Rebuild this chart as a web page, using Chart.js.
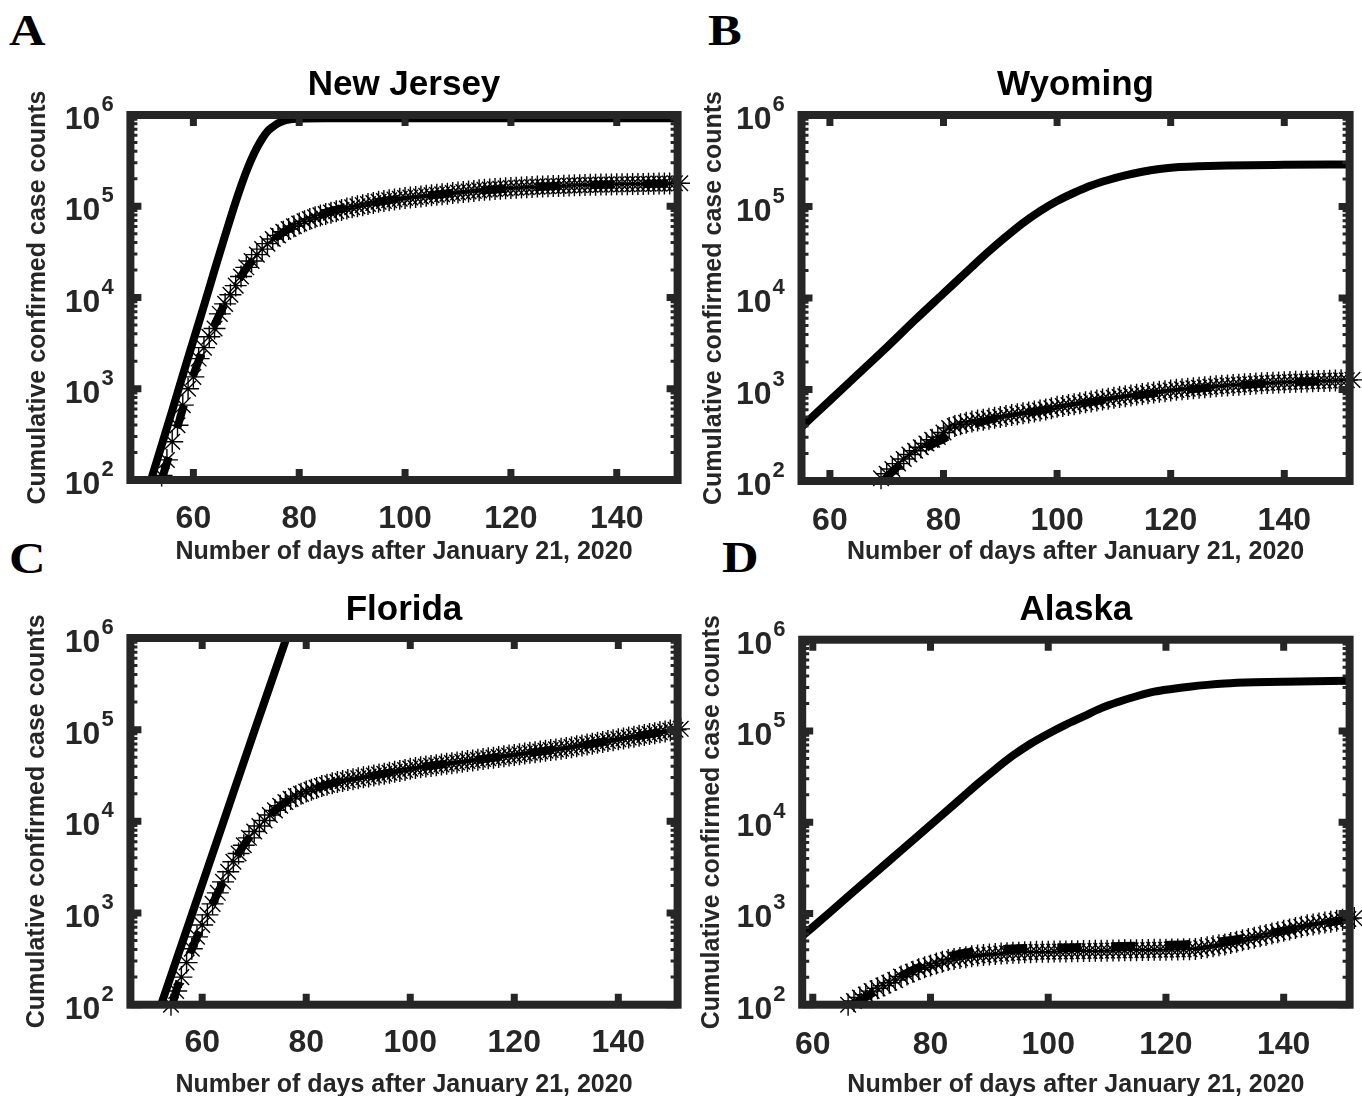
<!DOCTYPE html>
<html>
<head>
<meta charset="utf-8">
<title>Cumulative confirmed case counts</title>
<script src="https://cdn.jsdelivr.net/npm/chart.js@4.4.0/dist/chart.umd.min.js"></script>
<style>
  body { margin: 0; background: #fff; width: 1362px; height: 1096px; overflow: hidden; position: relative; }
  canvas { position: absolute; }
  .letter {
    position: absolute;
    font-family: "Liberation Serif", "Times New Roman", serif;
    font-weight: bold;
    font-size: 44px;
    line-height: 44px;
    color: #000;
    transform: scaleX(1.15);
    transform-origin: left top;
  }
</style>
</head>
<body>
<div class="letter" style="left:9px;top:9px">A</div>
<div class="letter" style="left:708px;top:9px">B</div>
<div class="letter" style="left:9px;top:537px">C</div>
<div class="letter" style="left:722px;top:536px">D</div>

<canvas id="chartNJ" width="690" height="520" style="left:0px;top:60px"></canvas>
<canvas id="chartWY" width="690" height="520" style="left:672px;top:60px"></canvas>
<canvas id="chartFL" width="690" height="513" style="left:0px;top:583px"></canvas>
<canvas id="chartAK" width="690" height="513" style="left:672px;top:583px"></canvas>

<script>
// tick values shared by all four panels
var xTicks = [60, 80, 100, 120, 140];
var yTicks = [1e2, 1e3, 1e4, 1e5, 1e6];
var yExponents = ['2', '3', '4', '5', '6'];

// New Jersey: daily confirmed counts from day 54, fitted curve, model curve
var firstDayNJ = 54;
var casesNJ = [112,166,263,398,661,1000,1350,2140,2820,3720,
  4570,6610,8510,10700,13500,17000,21400,25100,29500,33900,
  38900,43700,47900,52500,56200,60300,64600,68400,72400,75900,
  79400,82200,85100,88100,91200,94400,97700,100000,102800,105700,
  108600,112200,114300,116400,118600,120800,123000,124700,126500,128200,
  130000,131800,133700,135500,137400,139300,141300,143200,145200,147200,
  149300,151400,152800,154200,155600,157000,158500,159600,160700,161800,
  162900,164100,164800,165600,166300,167100,167900,168700,169400,170200,
  171000,171800,172200,172600,173000,173400,173800,174200,174600,175000,
  175400,175800,176200,176600,177000,177400,177800,178300,178800];
var fitDaysNJ = [54,56,58,60,62,64,66,68,70,72,75,78,82,86,90,95,100,110,120,130,140,152];
var fitNJ = [100,240,603,1410,2820,5010,8710,13800,20900,28800,42700,56200,74100,89100,100000,112200,123000,141300,156700,167900,173800,177800];
var modelDaysNJ = [52,54,56,58,60,62,64,66,68,69,70,71,72,73,74,75,76,77,78,80,85,100,152];
var modelNJ = [100,240,575,1410,3390,8130,19950,47900,112200,166000,239900,331100,436500,549500,660700,741300,812800,861000,891300,912000,922600,922600,922600];

// Wyoming
var firstDayWY = 69;
var casesWY = [107,120,135,155,174,195,214,234,257,282,
  302,339,380,398,417,432,447,457,468,479,
  490,501,513,525,537,550,562,575,589,603,
  625,646,661,676,692,708,724,741,759,776,
  794,813,828,843,859,875,891,908,925,942,
  959,977,991,1005,1019,1033,1047,1059,1071,1084,
  1096,1109,1119,1130,1140,1151,1161,1169,1178,1186,
  1194,1202,1208,1213,1219,1225,1230,1236,1242,1247,
  1253,1259,1265,1274];
var fitDaysWY = [69.5,72,75,78,81,85,90,95,100,105,110,115,120,125,130,135,140,145,152];
var fitWY = [100,145,195,250,310,410,495,560,635,715,795,875,955,1025,1090,1145,1190,1225,1280];
var modelDaysWY = [55,60,65,70,75,80,85,88,91,94,97,100,103,106,109,112,115,118,121,125,130,140,152];
var modelWY = [389,759,1479,2884,5754,11220,21880,32360,46770,66070,89130,114800,141300,169800,195000,218800,239900,257000,269200,275400,280500,285100,288400];

// Florida
var firstDayFL = 54;
var casesFL = [100,141,200,288,407,550,741,955,1259,1660,
  2188,2818,3631,4467,5495,6607,7762,8913,10230,11750,
  13180,14790,16220,17580,18840,19950,21130,22130,23170,24270,
  25120,26000,26920,27540,28180,28840,29510,30200,30900,31620,
  32360,33110,33880,34670,35480,36310,37580,38230,38900,39580,
  40270,40970,41690,42410,43150,43900,44670,45450,46240,47040,
  47860,48700,49550,50410,51290,52180,53090,54020,54950,55910,
  56890,57880,58880,59910,60950,62010,63100,64490,65920,67380,
  68870,70390,71940,73530,75160,76820,78520,80250,82030,83850,
  85700,87600,89540,91520,93540,95610,97720,99880,102100];
var fitDaysFL = [54.3,55,57,59,61,63,65,67,69,71,74,77,80,85,90,95,100,110,120,130,140,152];
var fitFL = [100,141,288,550,955,1660,2818,4467,6607,8913,13180,17580,21130,26000,29510,33110,37580,44670,53090,63100,78520,102100];
var modelDaysFL = [52.1,58,64,70,76.2,78];
var modelFL = [100,955,9550,95500,1000000,2000000];

// Alaska
var firstDayAK = 66;
var casesAK = [100,110,120,129,141,151,162,174,186,204,
  214,229,245,257,269,282,295,309,316,324,
  331,339,347,351,355,359,363,367,372,372,
  376,376,380,380,380,382,383,384,385,386,
  387,388,389,390,391,392,393,394,395,396,
  397,398,399,400,401,402,403,404,405,407,
  417,427,437,447,457,473,490,507,525,543,
  562,582,603,624,646,668,692,716,741,759,
  776,794,813,832,851,871,891];
var fitDaysAK = [67,70,73,76,79,82,85,88,92,96,100,105,110,115,120,125,130,135,140,145,152];
var fitAK = [100,132,174,224,275,324,363,389,407,417,422,427,437,442,452,468,501,562,646,741,891];
var modelDaysAK = [58,60,65,70,75,80,85,88,91,94,97,100,103,106,109,112,115,118,121,124,127,130,135,140,152];
var modelAK = [550,708,1349,2570,4898,9333,17780,26300,38020,53700,72440,93330,117500,144500,177800,208900,239900,269200,288400,305500,319900,331100,341200,346700,354800];

var fontFamily = "'Liberation Sans', Arial, 'DejaVu Sans', sans-serif";
var axisColor = '#262626';

function toPoints(days, values) {
  var pts = [];
  for (var i = 0; i < values.length; i++) {
    pts.push({ x: days[i], y: values[i] });
  }
  return pts;
}

function dailyPoints(firstDay, values) {
  var pts = [];
  for (var i = 0; i < values.length; i++) {
    pts.push({ x: firstDay + i, y: values[i] });
  }
  return pts;
}

// box, inward ticks, log minor ticks and 10^n labels, drawn like the MATLAB axes
var framePlugin = {
  id: 'frame',
  afterDatasetsDraw: function(chart) {
    var ctx = chart.ctx;
    var a = chart.chartArea;
    var xs = chart.scales.x;
    var ys = chart.scales.y;
    ctx.save();
    ctx.strokeStyle = axisColor;
    ctx.lineCap = 'butt';

    ctx.lineWidth = 3;
    ctx.beginPath();
    for (var d = 0; d < 4; d++) {
      for (var m = 2; m <= 9; m++) {
        var py = ys.getPixelForValue(m * yTicks[d]);
        ctx.moveTo(a.left, py); ctx.lineTo(a.left + 7, py);
        ctx.moveTo(a.right, py); ctx.lineTo(a.right - 7, py);
      }
    }
    ctx.stroke();

    ctx.lineWidth = 7;
    ctx.beginPath();
    xTicks.forEach(function(v) {
      var px = xs.getPixelForValue(v);
      ctx.moveTo(px, a.bottom); ctx.lineTo(px, a.bottom - 11);
      ctx.moveTo(px, a.top); ctx.lineTo(px, a.top + 11);
    });
    yTicks.forEach(function(v) {
      var py = ys.getPixelForValue(v);
      ctx.moveTo(a.left, py); ctx.lineTo(a.left + 11, py);
      ctx.moveTo(a.right, py); ctx.lineTo(a.right - 11, py);
    });
    ctx.stroke();

    ctx.lineWidth = 8;
    ctx.strokeRect(a.left, a.top, a.right - a.left, a.bottom - a.top);

    // y tick labels as 10 with a raised exponent
    ctx.fillStyle = axisColor;
    ctx.textBaseline = 'alphabetic';
    yTicks.forEach(function(v, i) {
      var py = ys.getPixelForValue(v);
      ctx.font = 'bold 32px ' + fontFamily;
      ctx.textAlign = 'right';
      ctx.fillText('10', a.left - 30, py + 14);
      ctx.font = 'bold 22px ' + fontFamily;
      ctx.textAlign = 'left';
      ctx.fillText(yExponents[i], a.left - 29, py - 4);
    });
    ctx.restore();
  }
};

function makeChart(p) {
  var W = p.width, H = p.height;
  var titleLH = 35 * 1.2;
  var titleTop = p.titleCenter - titleLH / 2;
  var ctx = document.getElementById(p.id).getContext('2d');

  return new Chart(ctx, {
    type: 'line',
    data: {
      datasets: [
        {
          label: 'fit',
          data: toPoints(p.fitDays, p.fit),
          borderColor: '#000',
          borderWidth: 8,
          borderDash: [24, 30],
          pointRadius: 0,
          fill: false,
          cubicInterpolationMode: 'monotone'
        },
        {
          label: 'data',
          data: dailyPoints(p.firstDay, p.cases),
          showLine: false,
          pointStyle: 'star',
          pointRadius: 11,
          pointBorderWidth: 1.4,
          pointBorderColor: '#000',
          borderColor: '#000',
          clip: false
        },
        {
          label: 'model',
          data: toPoints(p.modelDays, p.model),
          borderColor: '#000',
          borderWidth: 8,
          pointRadius: 0,
          fill: false,
          cubicInterpolationMode: 'monotone'
        }
      ]
    },
    options: {
      responsive: false,
      animation: false,
      devicePixelRatio: 1,
      layout: { padding: { left: 0, top: 0, right: W - p.right, bottom: 0 } },
      plugins: {
        legend: { display: false },
        tooltip: { enabled: false },
        title: {
          display: true,
          text: p.title,
          fullSize: false,
          color: '#000',
          font: { family: fontFamily, size: 35, weight: 'bold', lineHeight: 1.2 },
          padding: { top: titleTop, bottom: p.top - titleTop - titleLH }
        }
      },
      scales: {
        x: {
          type: 'linear',
          min: p.xMin,
          max: p.xMax,
          grid: { display: false },
          border: { display: false },
          afterBuildTicks: function(scale) {
            scale.ticks = xTicks.map(function(v) { return { value: v }; });
          },
          afterFit: function(scale) { scale.height = H - p.bottom; },
          ticks: {
            autoSkip: false,
            maxRotation: 0,
            color: axisColor,
            padding: p.xTickCenter - p.bottom - 19.2 - 6,
            font: { family: fontFamily, size: 32, weight: 'bold', lineHeight: 1.2 }
          },
          title: {
            display: true,
            text: 'Number of days after January 21, 2020',
            color: axisColor,
            font: { family: fontFamily, size: 25, weight: 'bold', lineHeight: 1.2 },
            padding: { top: 0, bottom: H - p.xTitleCenter - 15 - 2 }
          }
        },
        y: {
          type: 'logarithmic',
          min: 100,
          max: 1e6,
          grid: { display: false },
          border: { display: false },
          afterBuildTicks: function(scale) {
            scale.ticks = yTicks.map(function(v) { return { value: v }; });
          },
          afterFit: function(scale) { scale.width = p.left; },
          ticks: { display: false },
          title: {
            display: true,
            text: 'Cumulative confirmed case counts',
            color: axisColor,
            font: { family: fontFamily, size: 25, weight: 'bold', lineHeight: 1.2 },
            padding: { top: p.yTitleCenter - 15, bottom: 0 }
          }
        }
      }
    },
    plugins: [framePlugin]
  });
}

makeChart({
  id: 'chartNJ', title: 'New Jersey', width: 690, height: 520,
  left: 130.4, top: 55, right: 680, bottom: 420,
  titleCenter: 25.7, xTickCenter: 457, xTitleCenter: 490, yTitleCenter: 37.7,
  xMin: 48.1, xMax: 151.5,
  firstDay: firstDayNJ, cases: casesNJ, fitDays: fitDaysNJ, fit: fitNJ,
  modelDays: modelDaysNJ, model: modelNJ
});

makeChart({
  id: 'chartWY', title: 'Wyoming', width: 690, height: 520,
  left: 129.5, top: 55, right: 681.8, bottom: 421,
  titleCenter: 25, xTickCenter: 459.6, xTitleCenter: 490, yTitleCenter: 42,
  xMin: 55.0, xMax: 151.5,
  firstDay: firstDayWY, cases: casesWY, fitDays: fitDaysWY, fit: fitWY,
  modelDays: modelDaysWY, model: modelWY
});

makeChart({
  id: 'chartFL', title: 'Florida', width: 690, height: 513,
  left: 130.4, top: 55, right: 680, bottom: 421.7,
  titleCenter: 27.4, xTickCenter: 458.5, xTitleCenter: 500.5, yTitleCenter: 37,
  xMin: 46.2, xMax: 151.4,
  firstDay: firstDayFL, cases: casesFL, fitDays: fitDaysFL, fit: fitFL,
  modelDays: modelDaysFL, model: modelFL
});

makeChart({
  id: 'chartAK', title: 'Alaska', width: 690, height: 513,
  left: 130.2, top: 56.7, right: 680, bottom: 421.7,
  titleCenter: 27.4, xTickCenter: 460.6, xTitleCenter: 500.5, yTitleCenter: 40,
  xMin: 58.2, xMax: 151.2,
  firstDay: firstDayAK, cases: casesAK, fitDays: fitDaysAK, fit: fitAK,
  modelDays: modelDaysAK, model: modelAK
});
</script>
</body>
</html>
